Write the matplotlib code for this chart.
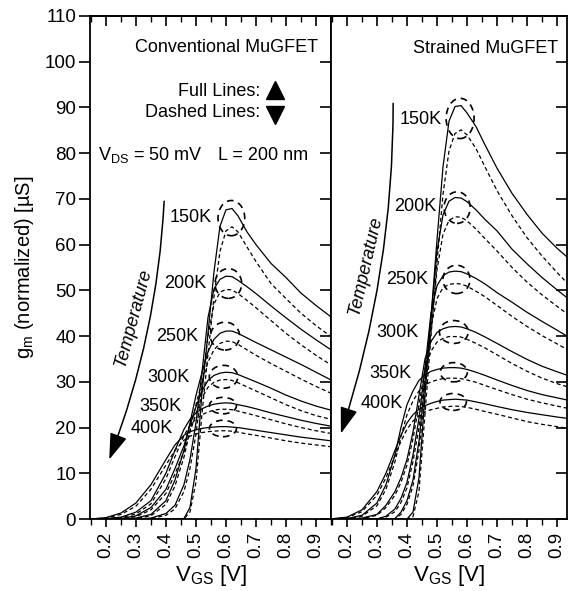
import matplotlib
matplotlib.use("Agg")
import matplotlib.pyplot as plt
from matplotlib.patches import Ellipse
from matplotlib.ticker import MultipleLocator, NullFormatter, FixedLocator, FixedFormatter

plt.rcParams['font.family'] = ['Liberation Sans', 'DejaVu Sans']
plt.rcParams['mathtext.fontset'] = 'custom'
plt.rcParams['mathtext.rm'] = 'Liberation Sans'
plt.rcParams['mathtext.it'] = 'Liberation Sans:italic'

# ---------------- data ----------------
temps = ['150K', '200K', '250K', '300K', '350K', '400K']
x_ticks = [0.2, 0.3, 0.4, 0.5, 0.6, 0.7, 0.8, 0.9]
x_tick_labels = ['0.2', '0.3', '0.4', '0.5', '0.6', '0.7', '0.8', '0.9']
y_ticks = [0, 10, 20, 30, 40, 50, 60, 70, 80, 90, 100, 110]
y_tick_labels = ['0', '10', '20', '30', '40', '50', '60', '70', '80', '90', '100', '110']

# Conventional MuGFET (left panel)
x_conv = [0.15, 0.20, 0.25, 0.30, 0.35, 0.40, 0.43, 0.46, 0.48, 0.50, 0.52, 0.54,
          0.56, 0.58, 0.60, 0.62, 0.64, 0.67, 0.70, 0.75, 0.80, 0.85, 0.90, 0.95]
conv_150_full = [0, 0, 0, 0, 0, 0, 0, 0.1, 2.5, 11, 27.5, 40.5, 54, 64, 67.6, 67.9, 66.3, 62.8, 60, 55.9, 52.8, 49.4, 46.7, 44.2]
conv_150_dash = [0, 0, 0, 0, 0, 0, 0, 0.05, 1.5, 8, 23, 36, 48.5, 58.5, 63.0, 63.9, 62.8, 59.5, 56.3, 51.5, 48.2, 45.0, 42.3, 39.9]
conv_200_full = [0, 0, 0, 0, 0.2, 1.2, 3, 7.5, 13, 21, 32, 44, 50.3, 52.4, 53.1, 53.0, 52.2, 50.8, 49.3, 46.6, 44.0, 41.5, 39.2, 37.0]
conv_200_dash = [0, 0, 0, 0, 0.1, 0.8, 2.2, 6, 11, 18.5, 29, 40, 47, 49.6, 50.2, 50.1, 49.3, 47.8, 46.2, 43.4, 40.6, 38.1, 35.8, 33.7]
conv_250_full = [0, 0, 0, 0.2, 1.0, 4, 8.5, 15, 21, 27, 32, 36.5, 39.3, 40.6, 41.1, 41.1, 40.6, 39.6, 38.6, 37.0, 35.4, 33.8, 32.1, 30.4]
conv_250_dash = [0, 0, 0, 0.1, 0.7, 3.2, 7.2, 13.5, 19.3, 25, 30, 34.3, 37.0, 38.4, 38.9, 38.8, 38.2, 37.0, 35.8, 34.0, 32.3, 30.6, 29.0, 27.5]
conv_300_full = [0, 0, 0.1, 0.7, 2.5, 6.5, 11, 16, 20.5, 24.5, 28, 30.3, 31.4, 31.9, 32.1, 32.0, 31.6, 30.8, 30.0, 28.6, 27.1, 25.8, 24.7, 23.8]
conv_300_dash = [0, 0, 0.05, 0.5, 2.0, 5.6, 9.8, 14.7, 19, 23, 26.5, 28.8, 29.9, 30.4, 30.5, 30.3, 29.8, 28.9, 28.0, 26.5, 25.0, 23.7, 22.6, 21.8]
conv_350_full = [0, 0.1, 0.4, 1.5, 4, 10, 15, 19.6, 21.8, 23.2, 24.1, 24.7, 25.1, 25.3, 25.4, 25.3, 25.0, 24.6, 24.1, 23.2, 22.4, 21.6, 20.9, 20.3]
conv_350_dash = [0, 0.05, 0.3, 1.1, 3.3, 8.8, 13.6, 18.2, 20.4, 21.9, 22.8, 23.4, 23.8, 24.0, 24.0, 23.9, 23.6, 23.1, 22.6, 21.7, 20.8, 20.0, 19.3, 18.7]
conv_400_full = [0, 0.3, 1.3, 3.5, 7.5, 13, 16.2, 18.3, 19.1, 19.5, 19.8, 20.0, 20.1, 20.2, 20.2, 20.1, 20.0, 19.7, 19.4, 18.9, 18.4, 17.9, 17.5, 17.1]
conv_400_dash = [0, 0.2, 1.0, 2.8, 6.5, 11.8, 15.0, 17.2, 18.1, 18.6, 18.9, 19.1, 19.2, 19.3, 19.3, 19.2, 19.0, 18.6, 18.3, 17.7, 17.1, 16.6, 16.2, 15.8]

# Strained MuGFET (right panel)
x_str = [0.15, 0.20, 0.25, 0.30, 0.33, 0.36, 0.38, 0.40, 0.42, 0.44, 0.46, 0.48, 0.50,
         0.52, 0.54, 0.56, 0.58, 0.60, 0.63, 0.66, 0.70, 0.75, 0.80, 0.85, 0.90, 0.935]
str_150_full = [0, 0, 0, 0, 0, 0, 0, 0, 1.5, 9, 27, 44, 61, 77, 87, 90.2, 90.4, 88.8, 85.8, 81.8, 76.7, 71.2, 66.6, 62.5, 59.2, 57.2]
str_150_dash = [0, 0, 0, 0, 0, 0, 0, 0, 0.5, 6, 23, 40, 56, 71, 80.5, 84.3, 85.1, 84.0, 81.0, 77.0, 71.8, 66.3, 61.5, 57.5, 53.9, 51.5]
str_200_full = [0, 0, 0, 0, 0, 0.1, 1.5, 4, 8.5, 17, 30, 44, 58.5, 66.5, 69.5, 70.3, 70.2, 69.4, 67.6, 65.5, 63.0, 59.0, 55.8, 52.8, 50.1, 48.3]
str_200_dash = [0, 0, 0, 0, 0, 0.05, 1.0, 3.2, 7.2, 15, 27.5, 41, 54.5, 62.3, 65.3, 66.1, 66.0, 65.2, 63.4, 61.3, 58.6, 55.0, 51.8, 49.0, 46.5, 44.8]
str_250_full = [0, 0, 0, 0, 0.6, 2.2, 4.5, 8, 14, 22, 33, 45, 51, 53.2, 54.0, 54.2, 54.1, 53.6, 52.6, 51.4, 49.5, 47.4, 45.2, 43.2, 41.3, 39.9]
str_250_dash = [0, 0, 0, 0, 0.4, 1.6, 3.6, 6.8, 12.5, 20, 31, 42, 48.2, 50.6, 51.3, 51.5, 51.4, 50.9, 49.8, 48.6, 46.7, 44.3, 42.1, 40.1, 38.3, 37.0]
str_300_full = [0, 0, 0.2, 1.0, 3, 6, 9, 13, 19, 27, 35, 38.8, 40.8, 41.6, 42.0, 42.1, 42.0, 41.6, 40.8, 39.8, 38.4, 36.6, 34.9, 33.4, 32.2, 31.4]
str_300_dash = [0, 0, 0.1, 0.8, 2.5, 5.2, 8, 11.8, 17.5, 25, 32.8, 36.7, 38.7, 39.5, 39.9, 39.9, 39.8, 39.3, 38.4, 37.4, 35.9, 34.0, 32.3, 30.8, 29.6, 28.9]
str_350_full = [0, 0.1, 0.8, 3.5, 7.5, 14, 20, 25, 28, 30.3, 31.5, 32.3, 32.7, 33.0, 33.1, 33.1, 33.0, 32.7, 32.1, 31.4, 30.4, 29.2, 28.1, 27.2, 26.5, 26.0]
str_350_dash = [0, 0.05, 0.6, 2.9, 6.5, 12.5, 18, 22.8, 25.8, 28, 29.3, 30.0, 30.4, 30.7, 30.8, 30.8, 30.7, 30.4, 29.9, 29.2, 28.3, 27.2, 26.2, 25.4, 24.7, 24.2]
str_400_full = [0.05, 0.4, 2.0, 6, 10, 15, 18.3, 21, 22.8, 24, 24.8, 25.3, 25.7, 26.0, 26.1, 26.2, 26.1, 26.0, 25.6, 25.2, 24.6, 23.9, 23.3, 22.8, 22.3, 22.0]
str_400_dash = [0.03, 0.3, 1.6, 5.2, 9, 13.8, 17, 19.6, 21.4, 22.6, 23.4, 23.9, 24.2, 24.5, 24.6, 24.7, 24.6, 24.4, 24.0, 23.5, 22.9, 22.1, 21.3, 20.7, 20.2, 19.8]

# temperature label anchors (right end of text) and peak ellipses
conv_label_x = [0.553, 0.535, 0.508, 0.480, 0.452, 0.424]
conv_label_y = [66.0, 51.4, 39.9, 31.0, 24.6, 19.8]
str_label_x = [0.516, 0.499, 0.471, 0.438, 0.416, 0.388]
str_label_y = [87.4, 68.4, 52.4, 40.7, 31.9, 25.3]
conv_ell_x = [0.618, 0.608, 0.597, 0.592, 0.590, 0.590]
conv_ell_y = [65.8, 51.5, 40.0, 31.1, 24.8, 19.8]
conv_ell_w = [0.089, 0.089, 0.097, 0.095, 0.090, 0.090]
conv_ell_h = [7.7, 6.5, 6.1, 5.0, 3.6, 3.6]
str_ell_x = [0.577, 0.567, 0.565, 0.556, 0.556, 0.554]
str_ell_y = [87.6, 68.1, 52.4, 40.9, 32.1, 25.6]
str_ell_w = [0.093, 0.087, 0.090, 0.096, 0.090, 0.088]
str_ell_h = [8.8, 6.9, 6.2, 5.0, 4.2, 3.7]

conv_full = [conv_150_full, conv_200_full, conv_250_full, conv_300_full, conv_350_full, conv_400_full]
conv_dash = [conv_150_dash, conv_200_dash, conv_250_dash, conv_300_dash, conv_350_dash, conv_400_dash]
str_full = [str_150_full, str_200_full, str_250_full, str_300_full, str_350_full, str_400_full]
str_dash = [str_150_dash, str_200_dash, str_250_dash, str_300_dash, str_350_dash, str_400_dash]

# ---------------- figure ----------------
W, H = 569, 591
fig = plt.figure(figsize=(W / 100, H / 100), dpi=100)
ax1 = fig.add_axes([90 / W, 72 / H, 241 / W, 503 / H])
ax2 = fig.add_axes([331 / W, 72 / H, 236 / W, 503 / H])

FS = 13
lw_curve = 0.9
dash = (0, (3.2, 2.2))

def draw(ax, xs, fulls, dashes, lx, ly, ex, ey, ew, eh):
    for yf, yd in zip(fulls, dashes):
        ax.plot(xs, yf, color='k', lw=lw_curve, solid_joinstyle='round')
        ax.plot(xs, yd, color='k', lw=lw_curve, linestyle=dash)
    for t, x, y in zip(temps, lx, ly):
        ax.text(x, y, t, ha='right', va='center', fontsize=FS)
    for x, y, w, h in zip(ex, ey, ew, eh):
        ax.add_patch(Ellipse((x, y), w, h, fill=False, ec='k', lw=1.2,
                             linestyle=(0, (4, 3))))

draw(ax1, x_conv, conv_full, conv_dash, conv_label_x, conv_label_y,
     conv_ell_x, conv_ell_y, conv_ell_w, conv_ell_h)
draw(ax2, x_str, str_full, str_dash, str_label_x, str_label_y,
     str_ell_x, str_ell_y, str_ell_w, str_ell_h)

ax1.set_xlim(0.147, 0.95)
ax2.set_xlim(0.147, 0.933)
for ax in (ax1, ax2):
    ax.set_ylim(0, 110)
    for s in ax.spines.values():
        s.set_linewidth(1.3)
    ax.xaxis.set_major_locator(FixedLocator(x_ticks))
    ax.xaxis.set_major_formatter(FixedFormatter(x_tick_labels))
    ax.xaxis.set_minor_locator(MultipleLocator(0.05))
    ax.tick_params(axis='x', which='major', direction='out', length=6, width=1.2,
                   labelsize=13.5, labelrotation=90, pad=3)
    ax.tick_params(axis='x', which='minor', direction='out', length=4, width=1.0)
    sec = ax.secondary_xaxis('top')
    sec.xaxis.set_major_locator(FixedLocator(x_ticks))
    sec.xaxis.set_minor_locator(MultipleLocator(0.05))
    sec.xaxis.set_major_formatter(NullFormatter())
    sec.tick_params(axis='x', which='major', direction='in', length=7, width=1.2)
    sec.tick_params(axis='x', which='minor', direction='in', length=4, width=1.0)
    sec.spines['top'].set_linewidth(1.3)
    ax.set_xlabel('V$_{\\mathrm{GS}}$ [V]', fontsize=16, labelpad=4)

# y axes
ax1.yaxis.set_major_locator(FixedLocator(y_ticks))
ax1.yaxis.set_major_formatter(FixedFormatter(y_tick_labels))
ax1.tick_params(axis='y', which='major', direction='out', length=8, width=1.2,
                labelsize=13.5, pad=2)
secy1 = ax1.secondary_yaxis('right')
secy1.yaxis.set_major_locator(FixedLocator(y_ticks))
secy1.yaxis.set_major_formatter(NullFormatter())
secy1.tick_params(axis='y', direction='in', length=8, width=1.2)
ax1.set_ylabel('g$_{\\mathrm{m}}$ (normalized) [µS]', fontsize=14.5, labelpad=6)

ax2.yaxis.set_major_locator(FixedLocator(y_ticks))
ax2.yaxis.tick_right()
ax2.tick_params(axis='y', which='major', direction='in', length=8, width=1.2,
                labelright=False, labelleft=False, left=False)

# annotations left panel
ax1.text(0.907, 103.2, 'Conventional MuGFET', ha='right', va='center', fontsize=FS)
ax1.text(0.715, 93.4, 'Full Lines:', ha='right', va='center', fontsize=FS)
ax1.text(0.715, 88.8, 'Dashed Lines:', ha='right', va='center', fontsize=FS)
ax1.plot([0.765], [93.8], marker='^', color='k', markersize=13, linestyle='none')
ax1.plot([0.765], [88.4], marker='v', color='k', markersize=13, linestyle='none')
ax1.text(0.173, 79.6, 'V$_{\\mathrm{DS}}$ = 50 mV', ha='left', va='center', fontsize=FS)
ax1.text(0.573, 79.6, 'L = 200 nm', ha='left', va='center', fontsize=FS)
ax2.text(0.903, 102.9, 'Strained MuGFET', ha='right', va='center', fontsize=FS)

arrow_kw = dict(arrowstyle='-|>,head_length=0.9,head_width=0.3', color='k', lw=1.1,
                mutation_scale=18, shrinkA=0, shrinkB=0)
ax1.annotate('', xy=(0.211, 13.0), xytext=(0.394, 69.5),
             arrowprops=dict(connectionstyle='arc3,rad=-0.08', **arrow_kw))
ax1.text(0.29, 44.0, 'Temperature', rotation=75, ha='center', va='center',
         fontsize=FS, style='italic')
ax2.annotate('', xy=(0.180, 18.7), xytext=(0.354, 90.9),
             arrowprops=dict(connectionstyle='arc3,rad=-0.08', **arrow_kw))
ax2.text(0.263, 55.5, 'Temperature', rotation=77, ha='center', va='center',
         fontsize=FS, style='italic')

fig.savefig('out.png', dpi=100)
